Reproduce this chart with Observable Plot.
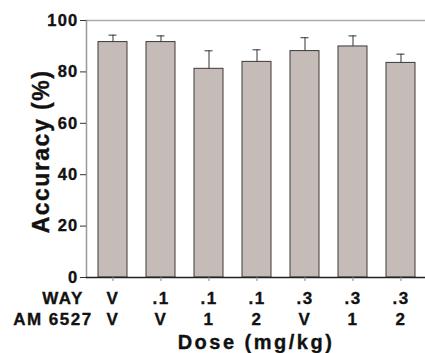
<!DOCTYPE html>
<html><head><meta charset="utf-8">
<script src="https://cdn.jsdelivr.net/npm/d3@7"></script>
<script src="https://cdn.jsdelivr.net/npm/@observablehq/plot@0.6"></script>
<style>
body{margin:0;background:#fff;}
#chart svg{display:block;}
</style>
</head><body><div id="chart"></div>
<script>
const categories = ["V/V", ".1/V", ".1/1", ".1/2", ".3/V", ".3/1", ".3/2"];
const wayLabels = ["V", ".1", ".1", ".1", ".3", ".3", ".3"];
const amLabels = ["V", "V", "1", "2", "V", "1", "2"];
const accuracy = [91.6, 91.6, 81.2, 83.9, 88.1, 89.9, 83.5];
const sem = [2.7, 2.4, 7.0, 4.7, 5.2, 4.1, 3.4];
const yTicks = [0, 20, 40, 60, 80, 100];

const rows = categories.map((c, i) => ({cat: c, way: wayLabels[i], am: amLabels[i], acc: accuracy[i], err: sem[i]}));
const font = "'Liberation Sans', Arial, Helvetica, sans-serif";
const ink = "#111";

const chart = Plot.plot({
  width: 425,
  height: 353,
  marginLeft: 86,
  marginRight: 0,
  marginTop: 20,
  marginBottom: 76,
  style: {fontFamily: font, background: "#fff", overflow: "visible"},
  x: {domain: categories, range: [86, 427], paddingInner: 0.406, paddingOuter: 0.203, axis: null},
  y: {domain: [0, 100], axis: null},
  marks: [
    Plot.ruleY([100], {stroke: "#aaa", strokeWidth: 1.5}),
    Plot.frame({anchor: "left", stroke: "#999", strokeWidth: 1.5}),
    Plot.barY(rows, {x: "cat", y: "acc", fill: "#c5bbb7", stroke: "#3a3a3a", strokeWidth: 1}),
    Plot.ruleX(rows, {x: "cat", y1: "acc", y2: d => d.acc + d.err, stroke: "#333", strokeWidth: 1}),
    Plot.tickY(rows, {x: "cat", y: d => d.acc + d.err, stroke: "#333", strokeWidth: 1, insetLeft: 10.5, insetRight: 10.5}),
    Plot.ruleY([0], {stroke: "#222", strokeWidth: 1.5}),
    Plot.axisY({ticks: yTicks, tickSize: 6, tickPadding: 2, fontSize: 16.5, fontWeight: "bold", label: null, stroke: "#333", color: ink}),
    Plot.axisX({tickSize: 4, tickFormat: () => "", label: null, stroke: "#888"}),
    Plot.text(rows, {x: "cat", text: "way", frameAnchor: "bottom", lineAnchor: "bottom", dy: 26.3, fontSize: 17, fontWeight: "bold", fill: ink}),
    Plot.text(rows, {x: "cat", text: "am", frameAnchor: "bottom", lineAnchor: "bottom", dy: 47, fontSize: 17, fontWeight: "bold", fill: ink}),
    Plot.text(["WAY"], {text: d => d, frameAnchor: "bottom-left", textAnchor: "start", lineAnchor: "bottom", dx: -44.3, dy: 26.3, fontSize: 17, fontWeight: "bold", fill: ink}),
    Plot.text(["AM 6527"], {text: d => d, frameAnchor: "bottom-left", textAnchor: "start", lineAnchor: "bottom", dx: -73.3, dy: 47, fontSize: 17, fontWeight: "bold", fill: ink}),
    Plot.text(["Dose (mg/kg)"], {text: d => d, frameAnchor: "bottom", lineAnchor: "bottom", dy: 71, dx: 0, fontSize: 20, fontWeight: "bold", fill: ink}),
    Plot.text(["Accuracy (%)"], {text: d => d, frameAnchor: "left", textAnchor: "middle", lineAnchor: "bottom", rotate: -90, dx: -38, dy: 2.5, fontSize: 23, fontWeight: "bold", fill: ink})
  ]
});

document.getElementById("chart").appendChild(chart);
const root = d3.select(chart);
const spacing = {"16.5": "1.2px", "17": "1.5px", "20": "2.5px", "23": "1.5px"};
root.selectAll("g[font-size]").each(function() {
  const fs = this.getAttribute("font-size");
  if (spacing[fs]) d3.select(this).selectAll("text").attr("letter-spacing", spacing[fs]).attr("stroke", ink).attr("stroke-width", 0.35);
});
</script>
</body></html>
